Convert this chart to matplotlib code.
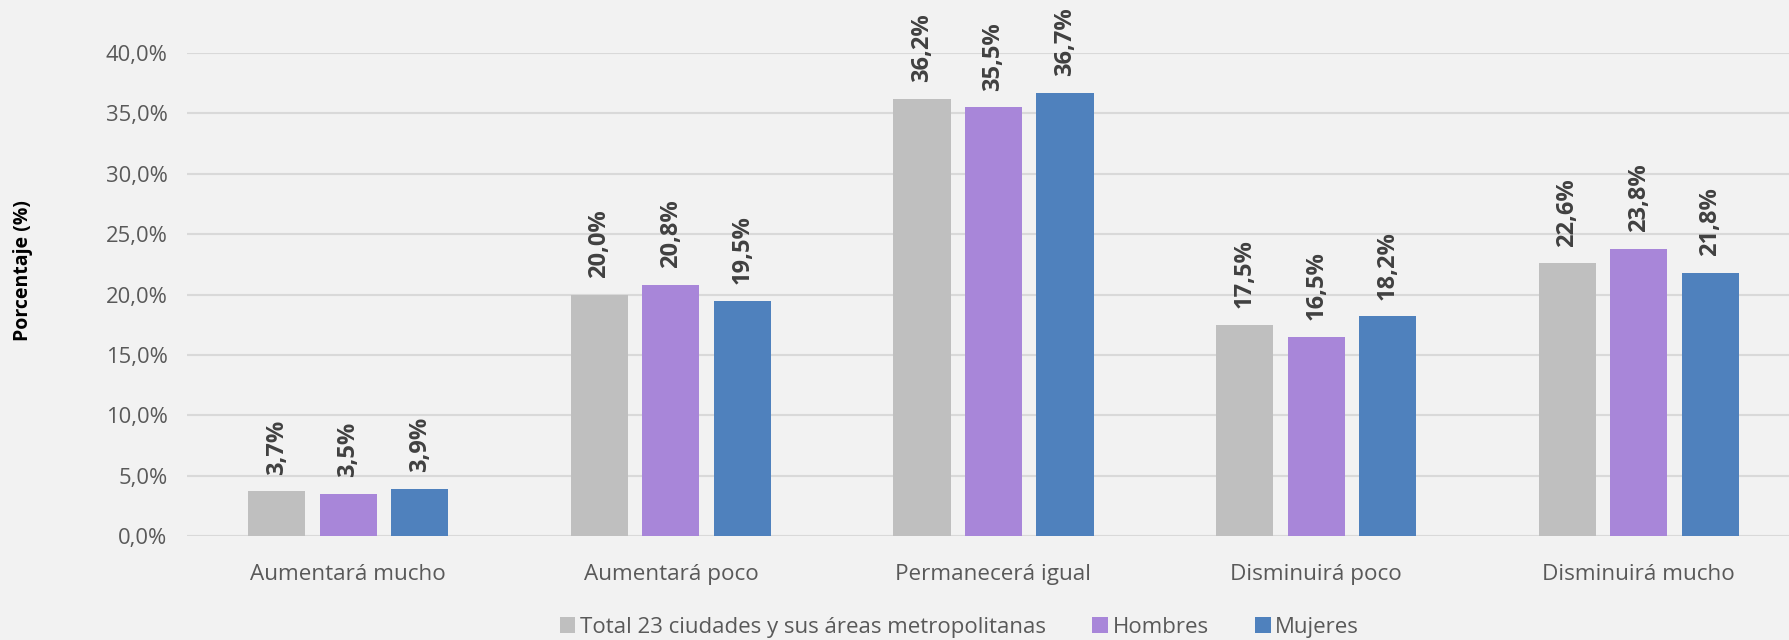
import matplotlib
matplotlib.use("Agg")
import matplotlib.pyplot as plt
import numpy as np
from matplotlib.patches import Patch

categories = ["Aumentará mucho", "Aumentará poco", "Permanecerá igual", "Disminuirá poco", "Disminuirá mucho"]
series_names = ["Total 23 ciudades y sus áreas metropolitanas", "Hombres", "Mujeres"]
total = [3.7, 20.0, 36.2, 17.5, 22.6]
hombres = [3.5, 20.8, 35.5, 16.5, 23.8]
mujeres = [3.9, 19.5, 36.7, 18.2, 21.8]
yticks = [0, 5, 10, 15, 20, 25, 30, 35, 40]

colors = ["#BFBFBF", "#A886D9", "#4F81BD"]
bg = "#F2F2F2"

plt.rcParams['font.family'] = ['Open Sans', 'DejaVu Sans']

fig = plt.figure(figsize=(17.9, 6.4), dpi=100, facecolor=bg)
ax = fig.add_axes([187 / 1790, 0.1625, 1613 / 1790, 0.7545], facecolor=bg)

x = np.arange(len(categories))
w = 0.177
off = 0.2216
for i, (vals, c) in enumerate(zip([total, hombres, mujeres], colors)):
    xs = x + (i - 1) * off
    ax.bar(xs, vals, width=w, color=c, zorder=3)
    for xi, v in zip(xs, vals):
        ax.annotate(f"{v:.1f}%".replace(".", ","), (xi, v), xytext=(0, 12),
                    textcoords="offset points", rotation=90, ha="center", va="bottom",
                    fontsize=17, fontweight="bold", color="#404040")

ax.set_xlim(-0.5, len(categories) - 0.5)
ax.set_ylim(0, 40)
ax.set_yticks(yticks)
ax.set_yticklabels([f"{t:.1f}%".replace(".", ",") for t in yticks])
ax.set_xticks(x)
ax.set_xticklabels(categories)
ax.tick_params(axis="both", length=0, labelsize=15.8, labelcolor="#595959")
ax.tick_params(axis="x", pad=20, labelsize=16.2)
ax.tick_params(axis="y", pad=14)
ax.grid(axis="y", color="#D9D9D9", linewidth=1.5, zorder=0)
for s in ax.spines.values():
    s.set_visible(False)

fig.text(0.007, 0.577, "Porcentaje (%)", rotation=90, ha="left", va="center",
         fontsize=14, fontweight="bold", color="black")

handles = [Patch(facecolor=c) for c in colors]
leg = fig.legend(handles, series_names, loc="center", bbox_to_anchor=(0.536, 0.02),
                 ncol=3, frameon=False, fontsize=16, handlelength=0.7, handleheight=0.7,
                 handletextpad=0.2, columnspacing=2.1)
for t in leg.get_texts():
    t.set_color("#595959")

fig.savefig("out.png", dpi=100, facecolor=bg)
